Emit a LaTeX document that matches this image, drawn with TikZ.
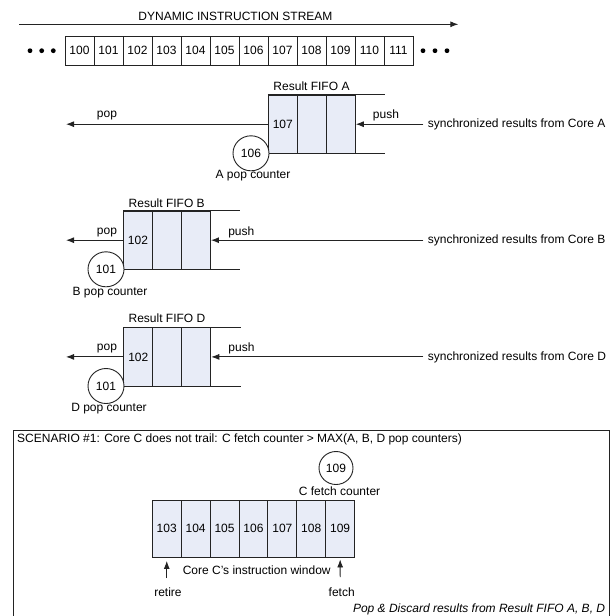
\documentclass[tikz,border=0pt]{standalone}
\usepackage{fontspec}
\setmainfont{Liberation Sans}
\usetikzlibrary{arrows.meta,shapes.geometric}
\definecolor{cellfill}{RGB}{232,236,247}
\definecolor{ln}{RGB}{35,35,35}
\begin{document}
\begin{tikzpicture}[x=1pt,y=-1pt,
  every node/.style={font=\fontsize{12}{14}\selectfont, inner sep=0pt},
  scell/.style={draw=ln, line width=0.9pt, minimum width=29pt, minimum height=29pt, fill=white},
  fcell/.style={draw=ln, line width=0.9pt, minimum width=29pt, minimum height=58.3pt, fill=cellfill},
  wcell/.style={draw=ln, line width=0.9pt, minimum width=28.9pt, minimum height=57.5pt, fill=cellfill},
  ctr/.style={draw=ln, line width=0.9pt, ellipse, minimum width=36pt, minimum height=35pt, fill=white},
  arr/.style={draw=ln, line width=0.9pt, -{Latex[length=8pt,width=6pt]}},
  lnst/.style={draw=ln, line width=0.9pt},
  dotst/.style={circle, fill=black, minimum size=4.8pt, inner sep=0pt},
  src/.style={anchor=west, inner xsep=4.4pt}]
\useasboundingbox (0,0) rectangle (613,616);
\fill[white] (0,0) rectangle (613,616);

% ---- dynamic instruction stream
\coordinate (ta) at (19,24.3);
\coordinate (tb) at (458.3,24.3);
\draw[arr] (ta) -- (tb);
\node (title) at (235.5,16.5) {DYNAMIC INSTRUCTION STREAM};
\foreach \i in {0,...,11}{
  \pgfmathtruncatemacro{\n}{100+\i}
  \node[scell] (s\i) at ({79.5+29*\i},50.5) {\n};
}
\node[dotst] (dl1) at (30,50.7) {};
\node[dotst] (dl2) at (41.7,50.7) {};
\node[dotst] (dl3) at (53.3,50.7) {};
\node[dotst] (dr1) at (423,50.7) {};
\node[dotst] (dr2) at (435,50.7) {};
\node[dotst] (dr3) at (447,50.7) {};

% ---- Result FIFO A
\foreach \i in {0,1,2}{ \node[fcell] (a\i) at ({282.8+29*\i},124.2) {}; }
\node at (a0) {107};
\draw[lnst] (a0.north west) -- (a2.north east) -- ++(29.3,0);
\draw[lnst] (a0.south west) -- (a2.south east) -- ++(29.3,0);
\node (la) at (311.5,86) {Result FIFO A};
\coordinate (pa) at (66,124.2);
\draw[arr] (a0.west) -- (pa);
\node (popa) at (107,115.7) {pop};
\node[src] (sa) at (423.3,124.2) {synchronized results from Core A};
\draw[arr] (sa.west) -- (a2.east);
\node (pusha) at (386,115) {push};
\node[ctr] (ca) at (251,153.3) {106};
\node (cla) at (253,175.7) {A pop counter};

% ---- Result FIFO B
\foreach \i in {0,1,2}{ \node[fcell] (b\i) at ({138+29*\i},240.2) {}; }
\node at (b0) {102};
\draw[lnst] (b0.north west) -- (b2.north east) -- ++(29.3,0);
\draw[lnst] (b0.south west) -- (b2.south east) -- ++(29.3,0);
\node (lb) at (166.7,203.3) {Result FIFO B};
\coordinate (pb) at (66,240.2);
\draw[arr] (b0.west) -- (pb);
\node (popb) at (107,232.4) {pop};
\node[src] (sb) at (423.3,240.2) {synchronized results from Core B};
\draw[arr] (sb.west) -- (b2.east);
\node (pushb) at (241.3,232.4) {push};
\node[ctr] (cb) at (106,269.3) {101};
\node (clb) at (110,292.7) {B pop counter};

% ---- Result FIFO D
\foreach \i in {0,1,2}{ \node[fcell] (d\i) at ({138.3+29*\i},356.9) {}; }
\node at (d0) {102};
\draw[lnst] (d0.north west) -- (d2.north east) -- ++(29.3,0);
\draw[lnst] (d0.south west) -- (d2.south east) -- ++(29.3,0);
\node (ld) at (167,318.5) {Result FIFO D};
\coordinate (pd) at (66,356.9);
\draw[arr] (d0.west) -- (pd);
\node (popd) at (107,348.8) {pop};
\node[src] (sd) at (423.3,356.9) {synchronized results from Core D};
\draw[arr] (sd.west) -- (d2.east);
\node (pushd) at (241.5,348.8) {push};
\node[ctr] (cd) at (106,386) {101};
\node (cld) at (109,408.3) {D pop counter};

% ---- Scenario box
\draw[lnst] (13,620) -- (13,430) -- (609,430) -- (609,620);
\node[anchor=west] (sc) at (17,439) {SCENARIO \#1: Core C does not trail: C fetch counter > MAX(A, B, D pop counters)};
\foreach \i in {0,...,6}{
  \pgfmathtruncatemacro{\n}{103+\i}
  \node[wcell] (w\i) at ({166.75+28.9*\i},528.75) {\n};
}
\node[ctr, minimum width=34pt, minimum height=33pt] (cc) at (336,468) {109};
\node (clc) at (339.5,491) {C fetch counter};
\node (win) at (256.7,570) {Core C’s instruction window};
\coordinate (rb) at (166.75,578);
\draw[arr] (rb) -- ([yshift=-3pt]w0.south);
\coordinate (fb) at (340.2,577);
\draw[arr] (fb) -- ([yshift=-1.5pt]w6.south);
\node (ret) at (168,592.7) {retire};
\node (fet) at (341.7,592.7) {fetch};
\node[anchor=east, font=\fontsize{12}{14}\selectfont\itshape] (pd2) at (605.3,609.3) {Pop \& Discard results from Result FIFO A, B, D};
\end{tikzpicture}
\end{document}
